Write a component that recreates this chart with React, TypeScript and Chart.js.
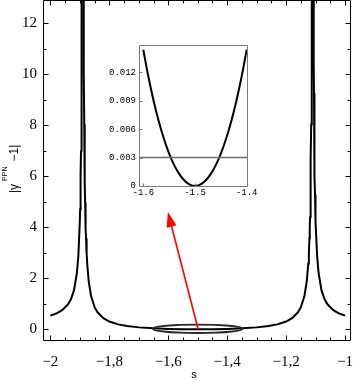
import React, { useEffect, useRef } from "react";
import { Chart, registerables } from "chart.js";
Chart.register(...registerables);

// Main curve |gamma^PPN - 1| versus s
const sValues = [
  -2, -1.98, -1.96, -1.94, -1.93, -1.92, -1.91, -1.905, -1.9, -1.899, -1.898, -1.897, -1.896, -1.895,
  -1.8945, -1.894, -1.893, -1.8915,
  -1.8885, -1.8875, -1.887, -1.886, -1.885, -1.884, -1.883, -1.882, -1.881, -1.88, -1.879, -1.877,
  -1.875, -1.87, -1.862, -1.85, -1.84, -1.82, -1.8, -1.77, -1.74, -1.7, -1.65, -1.6, -1.55, -1.5,
  -1.45, -1.4, -1.35, -1.3, -1.26, -1.23, -1.2, -1.18, -1.16, -1.15, -1.138, -1.13, -1.125, -1.123,
  -1.121, -1.12, -1.119, -1.118, -1.117, -1.116, -1.115, -1.114, -1.113, -1.1125, -1.1115,
  -1.1085, -1.107, -1.106, -1.1055, -1.105, -1.104, -1.103, -1.102, -1.101, -1.1, -1.095, -1.09,
  -1.08, -1.07, -1.06, -1.04, -1.02, -1,
];
const gammaValues = [
  0.536, 0.618, 0.747, 0.98, 1.184, 1.524, 2.206, 2.888, 4.253, 4.71, 5.28, 6.01, 6.98, 8.35,
  9.26, 10.4, 13.8, 27.5,
  27.1, 16.2, 13.5, 10.08, 8.03, 6.67, 5.69, 4.96, 4.39, 3.94, 3.57, 2.99,
  2.57, 1.89, 1.307, 0.869, 0.665, 0.433, 0.304, 0.193, 0.128, 0.075, 0.036, 0.0148, 0.0035, 0,
  0.0035, 0.0148, 0.036, 0.075, 0.128, 0.193, 0.304, 0.433, 0.665, 0.869, 1.307, 1.89, 2.57, 2.99,
  3.57, 3.94, 4.39, 4.96, 5.69, 6.67, 8.03, 10.08, 13.5, 16.2, 27.1,
  27.5, 13.8, 10.4, 9.26, 8.35, 6.98, 6.01, 5.28, 4.71, 4.253, 2.888, 2.206,
  1.524, 1.184, 0.98, 0.747, 0.618, 0.536,
];
const xTickValues = [-2, -1.8, -1.6, -1.4, -1.2, -1];
const xTickLabels = ["−2", "−1,8", "−1,6", "−1,4", "−1,2", "−1"];
const yTickValues = [0, 2, 4, 6, 8, 10, 12];
const yTickLabels = ["0", "2", "4", "6", "8", "10", "12"];
const xAxisTitle = "s";

// Annotation: ellipse around the minimum and arrow towards the inset
const ellipseCenter = [-1.5, 0.02];
const ellipseRadii = [0.152, 0.165];
const arrowStart = [-1.4985, 0.0];
const arrowEnd = [-1.6014, 4.6];

// Inset: zoom on the minimum
const insetS = [
  -1.6, -1.59, -1.58, -1.57, -1.56, -1.55, -1.54, -1.53, -1.52, -1.51, -1.5,
  -1.49, -1.48, -1.47, -1.46, -1.45, -1.44, -1.43, -1.42, -1.41, -1.4,
];
const insetGamma = [
  0.0144, 0.01151, 0.00898, 0.00681, 0.00496, 0.00342, 0.00217, 0.00122, 0.00054, 0.000135, 0,
  0.000135, 0.00054, 0.00122, 0.00217, 0.00342, 0.00496, 0.00681, 0.00898, 0.01151, 0.0144,
];
const insetBoundS = [-1.62, -1.38];
const insetBoundGamma = [0.003, 0.003];
const insetXTicks = [-1.6, -1.5, -1.4];
const insetXLabels = ["-1.6", "-1.5", "-1.4"];
const insetYTicks = [0, 0.003, 0.006, 0.009, 0.012];
const insetYLabels = ["0", "0.003", "0.006", "0.009", "0.012"];

const zeroPad = (s: any) => {
  s.paddingLeft = 0;
  s.paddingRight = 0;
  s.paddingTop = 0;
  s.paddingBottom = 0;
};

const mainDecor = {
  id: "mainDecor",
  afterDatasetsDraw(chart: any) {
    const { ctx, scales } = chart;
    const xs = scales.x;
    const ys = scales.y;
    ctx.save();
    const cx = xs.getPixelForValue(ellipseCenter[0]);
    const cy = ys.getPixelForValue(ellipseCenter[1]);
    const rx = Math.abs(xs.getPixelForValue(ellipseCenter[0] + ellipseRadii[0]) - cx);
    const ry = Math.abs(ys.getPixelForValue(ellipseCenter[1] + ellipseRadii[1]) - cy);
    ctx.beginPath();
    ctx.ellipse(cx, cy, rx, ry, 0, 0, Math.PI * 2);
    ctx.strokeStyle = "#2a2a2a";
    ctx.lineWidth = 1.8;
    ctx.stroke();
    const x0 = xs.getPixelForValue(arrowStart[0]);
    const y0 = ys.getPixelForValue(arrowStart[1]);
    const x1 = xs.getPixelForValue(arrowEnd[0]);
    const y1 = ys.getPixelForValue(arrowEnd[1]);
    const dx = x1 - x0, dy = y1 - y0;
    const len = Math.hypot(dx, dy);
    const ux = dx / len, uy = dy / len;
    const hl = 15, hw = 5;
    const bx = x1 - ux * hl, by = y1 - uy * hl;
    ctx.strokeStyle = "#ff0000";
    ctx.fillStyle = "#ff0000";
    ctx.lineWidth = 1.6;
    ctx.beginPath();
    ctx.moveTo(x0, y0);
    ctx.lineTo(bx + ux * 2, by + uy * 2);
    ctx.stroke();
    ctx.beginPath();
    ctx.moveTo(x1, y1);
    ctx.lineTo(bx - uy * hw, by + ux * hw);
    ctx.lineTo(bx + uy * hw, by - ux * hw);
    ctx.closePath();
    ctx.fill();
    ctx.restore();
  },
  afterDraw(chart: any) {
    const { ctx, chartArea: a, scales } = chart;
    const xs = scales.x;
    const ys = scales.y;
    const L = Math.round(a.left) + 0.5;
    const R = Math.round(a.right) - 0.5;
    const T = Math.round(a.top) - 0.5;
    const B = Math.round(a.bottom) + 0.5;
    ctx.save();
    ctx.strokeStyle = "#000";
    ctx.lineWidth = 1;
    ctx.beginPath();
    ctx.rect(L, T, R - L, B - T);
    ctx.stroke();
    ctx.beginPath();
    for (let i = 0; i <= 21; i++) {
      const v = -2 + i * 0.05;
      const major = i % 4 === 0;
      const len = major ? 5 : 3;
      const px = Math.round(xs.getPixelForValue(v)) + 0.5;
      ctx.moveTo(px, B); ctx.lineTo(px, B - len);
      ctx.moveTo(px, T); ctx.lineTo(px, T + len);
    }
    for (let v = 0; v <= 12; v++) {
      const major = v % 2 === 0;
      const len = major ? 5 : 3;
      const py = Math.round(ys.getPixelForValue(v)) + 0.5;
      ctx.moveTo(L, py); ctx.lineTo(L + len, py);
      ctx.moveTo(R, py); ctx.lineTo(R - len, py);
    }
    ctx.stroke();
    ctx.fillStyle = "#000";
    ctx.font = '11px "Liberation Sans"';
    ctx.textAlign = "center";
    ctx.textBaseline = "alphabetic";
    ctx.fillText(xAxisTitle, (a.left + a.right) / 2 - 3, 378);
    ctx.translate(17.5, 193);
    ctx.rotate(-Math.PI / 2);
    ctx.textAlign = "left";
    ctx.font = '12px "Liberation Sans"';
    let x = 0;
    ctx.fillText("|γ", x, 0);
    x += ctx.measureText("|γ").width + 3;
    ctx.font = '7px "Liberation Sans"';
    ctx.fillText("PPN", x, -11);
    x += ctx.measureText("PPN").width + 5;
    ctx.font = '12px "Liberation Sans"';
    ctx.fillText("−1|", x, 0);
    ctx.restore();
  },
};

const insetDecor = {
  id: "insetDecor",
  beforeDraw(chart: any) {
    const { ctx, chartArea: a } = chart;
    ctx.save();
    ctx.fillStyle = "#fff";
    ctx.fillRect(a.left, a.top, a.right - a.left, a.bottom - a.top);
    ctx.restore();
  },
  afterDraw(chart: any) {
    const { ctx, chartArea: a, scales } = chart;
    const xs = scales.x;
    const ys = scales.y;
    const L = Math.round(a.left) + 0.5;
    const R = Math.round(a.right) - 0.5;
    const T = Math.round(a.top) + 0.5;
    const B = Math.round(a.bottom) - 0.5;
    ctx.save();
    ctx.strokeStyle = "#7a7a7a";
    ctx.lineWidth = 1;
    ctx.beginPath();
    ctx.rect(L, T, R - L, B - T);
    ctx.stroke();
    ctx.beginPath();
    for (const v of insetXTicks) {
      const px = Math.round(xs.getPixelForValue(v)) + 0.5;
      ctx.moveTo(px, B); ctx.lineTo(px, B - 3);
    }
    for (const v of insetYTicks) {
      const py = Math.round(ys.getPixelForValue(v)) + 0.5;
      ctx.moveTo(L, py); ctx.lineTo(L + 3, py);
    }
    ctx.stroke();
    ctx.restore();
  },
};

export default function App() {
  const mainRef = useRef<HTMLCanvasElement>(null);
  const insetRef = useRef<HTMLCanvasElement>(null);

  useEffect(() => {
    const main = new Chart(mainRef.current as HTMLCanvasElement, {
      type: "line",
      data: {
        datasets: [
          {
            data: sValues.map((s, i) => ({ x: s, y: gammaValues[i] })),
            borderColor: "#000",
            borderWidth: 2,
            pointRadius: 0,
            tension: 0,
            fill: false,
          },
        ],
      },
      options: {
        animation: false,
        responsive: false,
        devicePixelRatio: 1,
        layout: { autoPadding: false, padding: { top: 1, right: 2, left: 0, bottom: 0 } },
        plugins: { legend: { display: false }, tooltip: { enabled: false } },
        scales: {
          x: {
            type: "linear",
            min: -2.025,
            max: -0.98,
            grid: { display: false, drawTicks: false },
            border: { display: false },
            afterBuildTicks: (s: any) => { s.ticks = xTickValues.map((v) => ({ value: v })); },
            afterFit: (s: any) => { s.height = 42; zeroPad(s); },
            ticks: {
              autoSkip: false,
              maxRotation: 0,
              padding: 13,
              color: "#000",
              font: { family: "Liberation Serif", size: 15 },
              callback: (_v: any, i: number) => xTickLabels[i],
            },
          },
          y: {
            type: "linear",
            min: -0.42,
            max: 12.87,
            grid: { display: false, drawTicks: false },
            border: { display: false },
            afterBuildTicks: (s: any) => { s.ticks = yTickValues.map((v) => ({ value: v })); },
            afterFit: (s: any) => { s.width = 43; zeroPad(s); },
            ticks: {
              autoSkip: false,
              padding: 6,
              color: "#000",
              font: { family: "Liberation Serif", size: 15 },
              callback: (_v: any, i: number) => yTickLabels[i],
            },
          },
        },
      },
      plugins: [mainDecor],
    } as any);

    const inset = new Chart(insetRef.current as HTMLCanvasElement, {
      type: "line",
      data: {
        datasets: [
          {
            data: insetBoundS.map((s, i) => ({ x: s, y: insetBoundGamma[i] })),
            borderColor: "#6e6e6e",
            borderWidth: 1.5,
            pointRadius: 0,
            fill: false,
          },
          {
            data: insetS.map((s, i) => ({ x: s, y: insetGamma[i] })),
            borderColor: "#000",
            borderWidth: 2,
            pointRadius: 0,
            cubicInterpolationMode: "monotone",
            fill: false,
          },
        ],
      },
      options: {
        animation: false,
        responsive: false,
        devicePixelRatio: 1,
        layout: { autoPadding: false, padding: { top: 5, right: 14, left: 0, bottom: 0 } },
        plugins: { legend: { display: false }, tooltip: { enabled: false } },
        scales: {
          x: {
            type: "linear",
            min: -1.6083,
            max: -1.3975,
            grid: { display: false, drawTicks: false },
            border: { display: false },
            afterBuildTicks: (s: any) => { s.ticks = insetXTicks.map((v) => ({ value: v })); },
            afterFit: (s: any) => { s.height = 18; zeroPad(s); },
            ticks: {
              autoSkip: false,
              maxRotation: 0,
              padding: 0,
              color: "#000",
              font: { family: "Liberation Mono", size: 9 },
              callback: (_v: any, i: number) => insetXLabels[i],
            },
          },
          y: {
            type: "linear",
            min: -0.00012,
            max: 0.0149,
            grid: { display: false, drawTicks: false },
            border: { display: false },
            afterBuildTicks: (s: any) => { s.ticks = insetYTicks.map((v) => ({ value: v })); },
            afterFit: (s: any) => { s.width = 39; zeroPad(s); },
            ticks: {
              autoSkip: false,
              padding: 3,
              color: "#000",
              font: { family: "Liberation Mono", size: 9 },
              callback: (_v: any, i: number) => insetYLabels[i],
            },
          },
        },
      },
      plugins: [insetDecor],
    } as any);

    return () => {
      main.destroy();
      inset.destroy();
    };
  }, []);

  return (
    <div style={{ position: "absolute", left: 0, top: 0, width: 353, height: 382, background: "#fff" }}>
      <canvas ref={mainRef} width={353} height={382} style={{ position: "absolute", left: 0, top: 0, width: 353, height: 382 }} />
      <canvas ref={insetRef} width={162} height={165} style={{ position: "absolute", left: 100, top: 40, width: 162, height: 165 }} />
    </div>
  );
}
